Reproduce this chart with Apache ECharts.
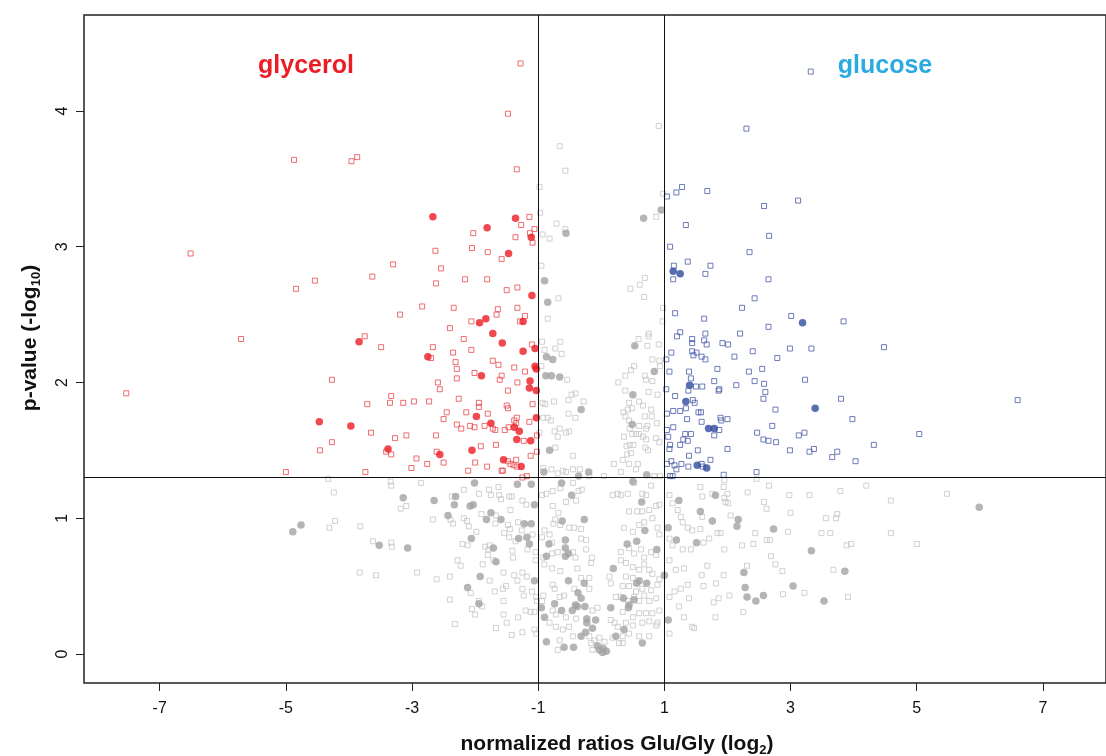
<!DOCTYPE html>
<html>
<head>
<meta charset="utf-8">
<script src="https://cdn.jsdelivr.net/npm/echarts@6.0.0/dist/echarts.min.js"></script>
<style>
  html, body { margin: 0; padding: 0; background: #fff; }
  #chart { width: 1106px; height: 756px; }
</style>
</head>
<body>
<div id="chart"></div>
<script>
// volcano plot, x = log2 ratio Glu/Gly, y = -log10 p

// tick positions
const xTicks = [-7, -5, -3, -1, 1, 3, 5, 7];
const yTicks = [0, 1, 2, 3, 4];
// cut-offs drawn as lines
const foldCut = [-1, 1];
const pCut = 1.301;

// significant, higher in glycerol (open squares / filled dots)
const glySquares = [
  [-1.28,4.35],[-1.48,3.98],[-1.34,3.57],[-4.87,3.64],[-3.96,3.63],[-3.87,3.66],[-1.14,3.22],[-1.27,3.16],[-2.03,3.10],[-1.36,3.07],
  [-1.06,3.13],[-1.13,3.10],[-1.09,3.03],[-6.51,2.95],[-4.54,2.75],[-4.84,2.69],[-5.71,2.32],[-4.27,2.02],[-7.53,1.92],[-4.27,1.56],
  [-4.46,1.50],[-5.00,1.34],[-2.63,2.97],[-2.05,2.99],[-3.30,2.87],[-2.54,2.84],[-1.80,2.96],[-1.58,2.91],[-3.63,2.78],[-2.62,2.73],
  [-2.16,2.76],[-1.81,2.76],[-1.50,2.68],[-1.33,2.70],[-2.84,2.56],[-2.34,2.55],[-3.19,2.50],[-1.64,2.54],[-1.66,2.50],[-1.33,2.55],
  [-1.21,2.49],[-2.06,2.45],[-1.29,2.45],[-2.40,2.40],[-3.75,2.34],[-2.18,2.32],[-1.10,2.28],[-3.49,2.26],[-2.67,2.26],[-2.06,2.24],
  [-2.35,2.22],[-2.70,2.18],[-2.31,2.15],[-1.72,2.16],[-1.63,2.13],[-1.38,2.11],[-2.29,2.10],[-2.01,2.07],[-1.21,2.08],[-2.29,2.03],
  [-1.58,2.05],[-1.61,2.02],[-1.33,2.00],[-2.59,2.00],[-2.56,1.95],[-1.48,1.94],[-3.33,1.90],[-3.35,1.85],[-3.71,1.84],[-3.14,1.85],
  [-2.97,1.86],[-2.73,1.86],[-2.26,1.88],[-1.94,1.85],[-1.94,1.82],[-1.50,1.83],[-1.48,1.81],[-1.09,1.84],[-2.45,1.78],[-2.14,1.78],
  [-1.80,1.77],[-2.50,1.73],[-1.34,1.74],[-1.38,1.72],[-1.14,1.71],[-2.29,1.69],[-2.08,1.68],[-2.01,1.67],[-2.22,1.66],[-1.85,1.68],
  [-1.72,1.66],[-1.68,1.65],[-1.53,1.65],[-1.47,1.67],[-1.35,1.70],[-3.65,1.63],[-3.27,1.59],[-3.09,1.61],[-2.62,1.61],[-1.23,1.57],
  [-1.02,1.61],[-1.91,1.53],[-1.67,1.54],[-3.41,1.49],[-3.33,1.47],[-2.61,1.49],[-2.93,1.44],[-2.50,1.41],[-2.76,1.40],[-3.01,1.37],
  [-2.00,1.41],[-1.81,1.38],[-1.48,1.42],[-1.44,1.40],[-1.39,1.39],[-1.35,1.43],[-1.34,1.38],[-1.58,1.35],[-1.56,1.35],[-2.11,1.35],
  [-3.74,1.34],[-1.12,1.46],[-1.02,1.49],[-1.18,1.31],[-1.25,1.30]
];
const glyDots = [
  [-2.67,3.22],[-1.81,3.14],[-1.36,3.21],[-1.11,3.07],[-1.47,2.95],[-1.10,2.64],[-1.83,2.47],[-1.93,2.44],[-1.24,2.45],[-1.72,2.36],
  [-1.57,2.29],[-3.84,2.30],[-1.24,2.23],[-1.05,2.25],[-2.75,2.19],[-1.05,2.12],[-1.03,2.10],[-1.90,2.05],[-1.13,2.01],[-1.14,1.96],
  [-1.03,1.94],[-1.98,1.75],[-1.75,1.70],[-1.38,1.67],[-1.30,1.64],[-1.03,1.74],[-3.97,1.68],[-1.34,1.58],[-1.12,1.57],[-3.38,1.51],
  [-2.56,1.47],[-2.05,1.50],[-1.55,1.43],[-1.27,1.38],[-4.47,1.71]
];

// significant, higher in glucose
const gluSquares = [
  [3.32,4.29],[2.30,3.87],[1.04,3.37],[1.19,3.40],[1.28,3.44],[1.68,3.41],[3.12,3.34],[2.58,3.30],[1.34,3.16],[2.66,3.08],
  [1.09,3.00],[1.37,2.89],[1.15,2.86],[1.14,2.76],[1.17,2.51],[1.25,2.37],[1.20,2.34],[1.44,2.32],[1.44,2.29],[1.44,2.23],
  [1.46,2.20],[1.51,2.22],[1.11,2.22],[1.03,2.17],[1.08,2.08],[1.39,2.08],[1.42,2.03],[1.03,1.95],[1.38,1.94],[1.50,1.97],
  [1.17,1.90],[1.45,1.87],[1.48,1.85],[1.34,1.81],[1.04,1.77],[1.14,1.79],[1.25,1.79],[1.36,1.73],[1.54,1.78],[1.14,1.67],
  [1.04,1.65],[1.33,1.62],[1.42,1.62],[1.06,1.60],[1.30,1.58],[1.37,1.57],[1.09,1.54],[1.08,1.51],[1.25,1.54],[1.53,1.50],
  [1.39,1.46],[1.11,1.42],[1.16,1.39],[1.19,1.36],[1.04,1.40],[1.27,1.40],[1.38,1.38],[1.09,1.31],[1.13,1.31],
  [2.35,2.96],[1.73,2.86],[1.65,2.80],[2.65,2.76],[2.43,2.62],[2.23,2.55],[3.01,2.49],[3.84,2.45],[1.63,2.47],[2.65,2.41],
  [1.65,2.36],[2.20,2.36],[1.63,2.31],[1.67,2.28],[1.92,2.29],[2.01,2.28],[2.99,2.25],[3.33,2.25],[4.48,2.26],[2.40,2.23],
  [1.59,2.19],[1.65,2.17],[2.11,2.19],[2.79,2.18],[1.84,2.10],[2.34,2.08],[2.55,2.10],[1.79,2.01],[2.43,2.01],[2.58,1.99],
  [1.60,1.97],[1.87,1.95],[1.86,1.94],[2.14,1.98],[2.60,1.93],[2.57,1.88],[3.23,2.02],[3.80,1.88],[6.60,1.87],[2.76,1.80],
  [1.58,1.78],[1.89,1.74],[1.90,1.72],[2.00,1.73],[1.59,1.71],[3.98,1.73],[2.71,1.68],[1.87,1.65],[1.79,1.61],[2.47,1.63],
  [3.13,1.61],[3.22,1.63],[5.04,1.62],[2.57,1.58],[2.65,1.57],[2.77,1.56],[4.32,1.54],[2.00,1.51],[2.99,1.50],[3.30,1.49],
  [3.37,1.51],[3.74,1.49],[3.66,1.45],[4.03,1.42],[1.73,1.43],[1.59,1.40],[1.61,1.38],[2.46,1.34],[1.94,1.32]
];
const gluDots = [
  [1.14,2.82],[1.25,2.80],[3.19,2.44],[1.40,1.98],[1.34,1.86],[3.39,1.81],[1.70,1.66],[1.79,1.66],[1.52,1.39],[1.67,1.37]
];

// not significant
const otherSquares = [
  [0.91,3.89],[-0.66,3.74],[-0.57,3.56],[-0.98,3.44],[-0.97,3.25],[-0.71,3.17],[-0.57,3.13],[-0.93,3.09],[-0.82,3.06],[0.87,3.22],[0.98,3.39],
  [-0.95,2.86],[-0.68,2.62],[-0.85,2.47],[0.69,2.77],[0.61,2.72],[0.46,2.69],[0.68,2.63],[0.98,2.55],[0.97,2.45],[0.75,2.36],
  [0.75,2.34],[0.59,2.32],[0.73,2.27],[0.91,2.28],[-0.94,2.30],[-0.65,2.30],[-0.90,2.24],[-0.73,2.25],[-0.63,2.21],[0.81,2.17],
  [0.92,2.16],[0.93,2.12],[0.52,2.12],[0.47,2.09],[0.38,2.05],[0.69,2.05],[0.71,2.02],[0.81,2.01],[0.27,2.00],[-0.54,2.02],
  [-0.95,2.12],[0.38,1.94],[0.75,1.93],[0.89,1.91],[-0.47,1.91],[-0.41,1.92],[-0.75,1.86],[-0.52,1.87],[-0.28,1.86],[0.60,1.86],
  [-0.93,1.85],[-0.89,1.84],[0.44,1.85],[0.35,1.78],[0.42,1.80],[0.49,1.81],[0.66,1.83],[0.79,1.80],[0.69,1.75],[0.80,1.75],
  [-0.52,1.77],[-0.41,1.74],[-0.92,1.74],[-0.85,1.74],[-0.80,1.72],[0.38,1.75],[0.44,1.72],[0.88,1.70],[0.60,1.68],[0.73,1.68],
  [0.71,1.66],[0.45,1.66],[-0.74,1.64],[-0.66,1.66],[-0.51,1.64],[-0.56,1.63],[-0.98,1.63],[-0.69,1.60],[0.36,1.60],[0.49,1.62],
  [0.55,1.62],[0.60,1.62],[0.66,1.60],[0.71,1.58],[0.87,1.59],[0.92,1.56],[0.45,1.54],[0.51,1.54],[0.40,1.53],[0.70,1.52],
  [0.74,1.50],[-0.73,1.52],[-0.45,1.46],[0.47,1.48],[0.41,1.47],[0.34,1.43],[0.44,1.40],[0.58,1.40],[0.20,1.40],[0.55,1.36],
  [-0.79,1.36],[-0.92,1.37],[-0.61,1.35],[-0.45,1.36],[-0.34,1.36],[-0.69,1.33],[-0.56,1.34],[0.31,1.34],[-0.19,1.31],[0.04,1.31],
  [0.84,1.31],[0.93,1.31],
  [-4.33,1.29],[-3.34,1.27],[-3.33,1.24],[-4.24,1.19],[-3.18,1.07],[-4.22,0.98],[-4.31,0.93],[-3.82,0.94],[-3.62,0.83],[-3.33,0.82],
  [-3.32,0.79],[-3.83,0.60],[-3.57,0.58],
  [-2.86,1.26],[-2.18,1.21],[-1.63,1.23],[-1.78,1.21],[-1.75,1.17],[-1.94,1.18],[-1.62,1.17],[-1.59,1.14],[-1.46,1.16],[-1.42,1.16],
  [-2.37,1.16],[-3.09,1.09],[-1.25,1.13],[-1.19,1.10],[-1.90,1.03],[-1.67,1.02],[-1.44,1.06],[-2.67,0.99],[-2.39,0.99],[-2.35,0.96],
  [-2.18,1.00],[-2.13,0.98],[-2.10,0.94],[-1.98,0.90],[-1.68,0.96],[-1.48,0.95],[-1.45,0.92],[-1.54,0.89],[-1.32,0.97],[-1.26,0.91],
  [-1.09,0.88],[-1.46,0.86],[-1.36,0.83],[-2.20,0.81],[-2.12,0.80],[-1.84,0.79],[-1.77,0.80],[-1.79,0.77],[-1.41,0.76],[-1.17,0.77],
  [-1.04,0.75],[-1.80,0.73],[-1.40,0.71],[-2.28,0.69],[-2.23,0.65],[-1.88,0.66],[-1.71,0.69],[-1.04,0.69],[-2.92,0.60],[-2.61,0.55],
  [-2.40,0.57],[-1.55,0.60],[-1.38,0.58],[-1.33,0.54],[-1.25,0.60],[-1.18,0.57],[-1.77,0.54],[-2.07,0.45],[-1.69,0.46],[-1.56,0.48],
  [-1.51,0.50],[-1.25,0.48],[-1.23,0.43],[-1.10,0.46],[-1.03,0.42],[-1.02,0.39],[-2.40,0.40],[-1.94,0.39],[-1.89,0.35],[-2.05,0.33],
  [-2.00,0.29],[-1.55,0.39],[-1.55,0.29],[-1.32,0.27],[-1.20,0.32],[-1.12,0.31],[-1.06,0.31],[-2.32,0.22],[-1.67,0.19],[-1.50,0.23],
  [-1.42,0.14],[-1.25,0.16],[-1.06,0.18],[-1.03,0.15],
  [-0.94,1.17],[-0.87,1.18],[-0.77,1.20],[-0.65,1.22],[-0.45,1.26],[-0.36,1.20],[-0.31,1.21],[0.18,1.17],[0.26,1.18],[-0.77,1.09],
  [-0.68,1.04],[-0.56,1.12],[-0.40,1.13],[-0.73,0.99],[-0.76,0.96],[-0.90,0.91],[-0.82,0.88],[-0.65,0.95],[-0.51,0.93],[-0.43,0.93],
  [-0.32,0.92],[-0.24,0.84],[-0.32,0.85],[-0.94,0.86],[-0.78,0.82],[-0.69,0.75],[-0.78,0.74],[-0.92,0.71],[-0.90,0.66],[-0.78,0.63],
  [-0.45,0.75],[-0.41,0.71],[-0.24,0.77],[-0.15,0.71],[-0.16,0.67],[-0.32,0.56],[-0.19,0.56],[-0.38,0.63],[-0.65,0.61],[-0.77,0.51],
  [-0.74,0.48],[-0.92,0.43],[-0.94,0.39],[-0.66,0.42],[-0.59,0.43],[-0.43,0.48],[-0.19,0.48],[0.13,0.57],[0.15,0.52],[0.23,0.42],
  [-0.77,0.32],[-0.72,0.29],[-0.56,0.27],[-0.40,0.26],[-0.06,0.34],[-0.14,0.32],[-0.82,0.23],[-0.72,0.20],[-0.61,0.18],[-0.51,0.20],
  [-0.45,0.13],[-0.19,0.13],[-0.16,0.08],[-0.11,0.10],[-0.03,0.12],[0.05,0.09],[-0.66,0.10],[-0.69,0.03],[-0.14,0.03],[0.15,0.25],
  [0.21,0.23],[0.26,0.20],[0.18,0.12],[0.28,0.08],
  [0.31,1.17],[0.42,1.18],[0.52,1.26],[0.65,1.18],[0.71,1.17],[0.79,1.24],[0.87,1.09],[0.92,1.10],[0.44,1.05],[0.57,1.05],
  [0.65,1.05],[0.76,1.06],[0.81,1.00],[0.36,0.93],[0.50,0.90],[0.60,0.95],[0.68,0.97],[0.89,0.93],[0.92,0.88],[0.31,0.75],
  [0.44,0.78],[0.52,0.74],[0.63,0.77],[0.68,0.71],[0.79,0.75],[0.87,0.73],[0.31,0.69],[0.39,0.67],[0.50,0.64],[0.60,0.62],
  [0.68,0.66],[0.76,0.62],[0.81,0.59],[0.39,0.57],[0.50,0.56],[0.34,0.50],[0.44,0.50],[0.55,0.46],[0.65,0.48],[0.79,0.47],
  [0.92,0.55],[0.89,0.51],[0.31,0.42],[0.42,0.39],[0.52,0.42],[0.60,0.39],[0.68,0.43],[0.76,0.39],[0.87,0.41],[0.34,0.31],
  [0.50,0.27],[0.60,0.30],[0.71,0.30],[0.81,0.30],[0.92,0.32],[0.39,0.23],[0.50,0.21],[0.65,0.23],[0.76,0.24],[0.87,0.21],
  [0.34,0.13],[0.44,0.15],[0.60,0.13],[0.76,0.13],[0.34,0.08],[0.89,0.23],
  [1.08,1.17],[1.13,1.11],[1.21,1.06],[1.26,1.01],[1.29,0.97],[1.37,0.93],[1.44,0.91],[1.08,0.85],[1.13,0.80],[1.29,0.77],
  [1.42,0.77],[1.08,0.69],[1.18,0.62],[1.31,0.63],[1.37,0.51],[1.26,0.48],[1.16,0.46],[1.08,0.42],[1.39,0.41],[1.23,0.35],
  [1.31,0.27],[1.44,0.20],[1.08,0.15],[1.47,0.19],
  [1.95,1.28],[2.46,1.29],[1.57,1.23],[1.94,1.23],[2.66,1.24],[4.20,1.24],[1.60,1.16],[1.76,1.18],[2.00,1.18],[1.95,1.15],
  [1.97,1.12],[2.01,1.11],[2.32,1.19],[2.58,1.12],[2.62,1.07],[2.98,1.17],[3.30,1.17],[3.79,1.20],[4.59,1.13],[5.48,1.18],
  [1.60,1.01],[2.05,1.02],[3.00,1.04],[3.56,1.00],[3.72,1.00],[3.74,1.03],[1.57,0.92],[1.84,0.89],[1.89,0.89],[2.44,0.89],
  [2.96,0.90],[3.49,0.89],[3.63,0.89],[4.59,0.89],[1.71,0.85],[1.62,0.82],[2.62,0.84],[2.67,0.84],[2.23,0.80],[2.41,0.81],
  [1.95,0.77],[3.89,0.80],[3.96,0.81],[5.00,0.81],[2.69,0.72],[2.76,0.66],[1.68,0.65],[2.31,0.65],[2.87,0.61],[3.68,0.62],
  [1.59,0.58],[1.94,0.58],[1.82,0.52],[1.62,0.50],[2.03,0.43],[1.86,0.41],[1.78,0.38],[2.88,0.44],[3.22,0.45],[3.91,0.42],
  [2.25,0.31],[1.81,0.27]
];
const otherDots = [
  [0.67,3.21],[0.95,3.27],[-0.56,3.10],[-0.90,2.75],[-0.85,2.59],[0.53,2.27],[-0.87,2.19],[-0.77,2.17],[-0.88,2.05],[-0.79,2.05],
  [-0.66,2.04],[0.84,2.08],[0.50,1.91],[-0.32,1.80],[0.49,1.69],[-0.82,1.50],[-0.91,1.34],[-0.36,1.31],[-0.20,1.34],[0.72,1.32],
  [-3.14,1.15],[-4.76,0.95],[-4.89,0.90],[-3.52,0.80],
  [-2.01,1.26],[-1.33,1.25],[-1.11,1.25],[-2.65,1.13],[-2.31,1.16],[-2.33,1.10],[-2.08,1.09],[-2.03,1.10],[-1.06,1.10],[-2.43,1.02],
  [-1.75,1.04],[-1.82,0.99],[-1.59,0.99],[-1.22,0.96],[-1.11,0.96],[-2.06,0.85],[-1.31,0.85],[-1.18,0.86],[-1.14,0.81],[-3.07,0.78],
  [-1.71,0.78],[-1.67,0.68],[-1.92,0.57],[-1.06,0.54],[-2.12,0.49],[-1.94,0.37],
  [-0.63,1.26],[-0.47,1.17],[-0.62,0.98],[-0.27,0.99],[-0.83,0.81],[-0.57,0.84],[-0.57,0.78],[-0.52,0.74],[-0.57,0.72],[-0.87,0.72],
  [0.19,0.63],[-0.52,0.54],[-0.27,0.52],[-0.37,0.45],[-0.32,0.41],[-0.41,0.36],[-0.38,0.35],[-0.26,0.35],[-0.46,0.32],[-0.95,0.34],
  [-0.63,0.32],[-0.74,0.37],[0.15,0.34],[-0.90,0.27],[-0.23,0.26],[-0.09,0.25],[-0.23,0.23],[-0.14,0.19],[-0.25,0.16],[-0.32,0.13],
  [-0.87,0.09],[-0.59,0.05],[-0.44,0.05],[-0.06,0.06],[-0.03,0.03],[0.03,0.04],[0.08,0.02],[0.02,0.01],[0.23,0.13],
  [0.50,1.27],[0.64,1.12],[1.23,1.13],[0.69,0.91],[1.06,0.93],[0.41,0.81],[0.56,0.83],[0.88,0.77],[1.19,0.84],[1.51,0.82],
  [1.00,0.58],[0.60,0.54],[0.56,0.52],[0.72,0.52],[0.35,0.41],[0.52,0.40],[0.44,0.36],[0.43,0.34],[1.06,0.25],[0.36,0.18],[0.65,0.08],
  [1.81,1.17],[1.57,1.05],[1.76,0.98],[2.17,0.99],[2.15,0.94],[2.73,0.92],[3.33,0.76],[5.99,1.08],[2.26,0.60],[3.86,0.61],
  [3.04,0.50],[2.28,0.49],[2.31,0.42],[2.45,0.39],[2.57,0.43],[3.53,0.39]
];

const narrow = '"Liberation Sans Narrow", "Arial Narrow", "Liberation Sans", Arial, sans-serif';
const sans = '"Liberation Sans", Arial, Helvetica, sans-serif';

function squares(data, color) {
  return {
    type: 'scatter',
    data: data,
    symbol: 'rect',
    symbolSize: 5,
    silent: true,
    itemStyle: { color: 'rgba(255,255,255,0)', borderColor: color, borderWidth: 1 }
  };
}
function dots(data, color) {
  return {
    type: 'scatter',
    data: data,
    symbol: 'circle',
    symbolSize: 7.5,
    silent: true,
    itemStyle: { color: color }
  };
}

const chart = echarts.init(document.getElementById('chart'), null, { renderer: 'canvas' });

const refLines = foldCut.map(function (v) { return { xAxis: v }; });
refLines.push({ yAxis: pCut });

const option = {
  animation: false,
  backgroundColor: '#fff',
  grid: {
    left: 84, top: 15, right: -2, bottom: 73,
    show: true, borderColor: '#222', borderWidth: 1.5, backgroundColor: 'transparent'
  },
  xAxis: {
    type: 'value',
    min: -8.2, max: 8.0,
    axisLine: { show: false, onZero: false },
    splitLine: { show: false },
    axisTick: { show: true, length: 8, customValues: xTicks, lineStyle: { color: '#222', width: 1 } },
    axisLabel: { customValues: xTicks, margin: 18, fontSize: 16, color: '#111', fontFamily: narrow }
  },
  yAxis: {
    type: 'value',
    min: -0.214, max: 4.707,
    axisLine: { show: false, onZero: false },
    splitLine: { show: false },
    axisTick: { show: true, length: 8, customValues: yTicks, lineStyle: { color: '#222', width: 1 } },
    axisLabel: { customValues: yTicks, rotate: 90, margin: 13, fontSize: 16, color: '#111', fontFamily: narrow }
  },
  series: [
    squares(otherSquares, '#c6c6c6'),
    squares(gluSquares, '#4a5ca8'),
    squares(glySquares, '#ea4a4f'),
    dots(otherDots, '#a2a2a2'),
    dots(gluDots, '#2f4b9d'),
    Object.assign(dots(glyDots, '#ed1c24'), {
      // cut-off lines
      markLine: {
        silent: true,
        symbol: ['none', 'none'],
        label: { show: false },
        lineStyle: { color: '#111', width: 1, type: 'solid' },
        emphasis: { disabled: true },
        data: refLines
      }
    })
  ],
  graphic: [
    {
      type: 'text', x: 306, y: 66, z: 100,
      style: { text: 'glycerol', fill: '#ec1c24', font: 'bold 25px ' + sans, align: 'center', verticalAlign: 'middle' }
    },
    {
      type: 'text', x: 885, y: 66, z: 100,
      style: { text: 'glucose', fill: '#29abe2', font: 'bold 25px ' + sans, align: 'center', verticalAlign: 'middle' }
    },
    {
      // x axis title with subscript
      type: 'text', x: 617, y: 744, z: 100,
      style: {
        text: '{m|normalized ratios Glu/Gly (log}{s|2}{m|)}',
        fill: '#111', align: 'center', verticalAlign: 'middle',
        rich: {
          m: { fontSize: 21, fontWeight: 'bold', fontFamily: narrow, lineHeight: 26, verticalAlign: 'middle', fill: '#111' },
          s: { fontSize: 13, fontWeight: 'bold', fontFamily: narrow, lineHeight: 14, verticalAlign: 'bottom', fill: '#111' }
        }
      }
    },
    {
      // y axis title, rotated
      type: 'text', x: 30, y: 338, z: 100, rotation: Math.PI / 2,
      style: {
        text: '{m|p-value (-log}{s|10}{m|)}',
        fill: '#111', align: 'center', verticalAlign: 'middle',
        rich: {
          m: { fontSize: 21, fontWeight: 'bold', fontFamily: narrow, lineHeight: 26, verticalAlign: 'middle', fill: '#111' },
          s: { fontSize: 13, fontWeight: 'bold', fontFamily: narrow, lineHeight: 14, verticalAlign: 'bottom', fill: '#111' }
        }
      }
    }
  ]
};

chart.setOption(option);
</script>
</body>
</html>
